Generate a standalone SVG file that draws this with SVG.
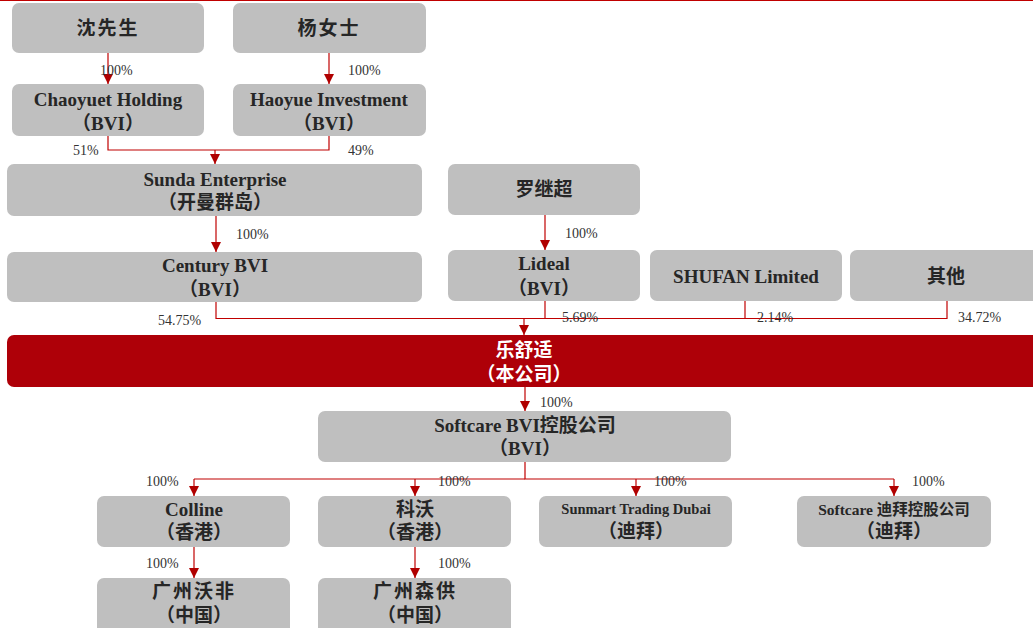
<svg xmlns="http://www.w3.org/2000/svg" width="1033" height="628" viewBox="0 0 1033 628">
<style>
.box{fill:#bfbfbf;}
.t{font-family:"Liberation Serif","Noto Sans CJK SC",serif;font-weight:bold;font-size:19px;fill:#262626;text-anchor:middle;}
.ts{font-size:14.5px;}
.w{fill:#ffffff;}
.p{font-family:"Liberation Serif","Noto Sans CJK SC",serif;font-size:14px;fill:#333333;}
.c{fill:none;stroke:#c00000;stroke-width:1.2;}
</style>
<defs>
<marker id="ah" markerUnits="userSpaceOnUse" markerWidth="10" markerHeight="10" refX="10" refY="5" orient="auto">
<path d="M0,0 L10,5 L0,10 z" fill="#b00000"/>
</marker>
</defs>
<rect width="1033" height="628" fill="#ffffff"/>
<line x1="0" y1="0.5" x2="1033" y2="0.5" stroke="#c00000" stroke-width="1"/>

<g id="connectors">
<path class="c" d="M108,53 V84" marker-end="url(#ah)"/>
<path class="c" d="M329,53 V84" marker-end="url(#ah)"/>
<path class="c" d="M108,136 V150 H329 V136"/>
<path class="c" d="M215,150 V164" marker-end="url(#ah)"/>
<path class="c" d="M216,216 V252" marker-end="url(#ah)"/>
<path class="c" d="M545,215 V250" marker-end="url(#ah)"/>
<path class="c" d="M216,302 V318.5 H947 V301"/>
<path class="c" d="M545,301 V318.5"/>
<path class="c" d="M745,301 V318.5"/>
<path class="c" d="M524,318.5 V335" marker-end="url(#ah)"/>
<path class="c" d="M525,387 V411" marker-end="url(#ah)"/>
<path class="c" d="M525,462 V479 H894"/>
<path class="c" d="M525,479 H194"/>
<path class="c" d="M194,479 V496" marker-end="url(#ah)"/>
<path class="c" d="M415,479 V496" marker-end="url(#ah)"/>
<path class="c" d="M636,479 V496" marker-end="url(#ah)"/>
<path class="c" d="M894,479 V496" marker-end="url(#ah)"/>
<path class="c" d="M194,547 V578" marker-end="url(#ah)"/>
<path class="c" d="M415,547 V578" marker-end="url(#ah)"/>
</g>

<g id="labels">
<text class="p" x="100" y="75">100%</text>
<text class="p" x="348" y="75">100%</text>
<text class="p" x="73" y="155">51%</text>
<text class="p" x="348" y="155">49%</text>
<text class="p" x="236" y="239">100%</text>
<text class="p" x="565" y="238">100%</text>
<text class="p" x="158" y="325">54.75%</text>
<text class="p" x="562" y="322">5.69%</text>
<text class="p" x="757" y="322">2.14%</text>
<text class="p" x="958" y="322">34.72%</text>
<text class="p" x="540" y="407">100%</text>
<text class="p" x="146" y="486">100%</text>
<text class="p" x="438" y="486">100%</text>
<text class="p" x="654" y="486">100%</text>
<text class="p" x="912" y="486">100%</text>
<text class="p" x="146" y="568">100%</text>
<text class="p" x="438" y="568">100%</text>
</g>

<g id="n-shen">
<rect class="box" x="12" y="3" width="192" height="50" rx="7"/>
<text class="t" x="108" y="35" letter-spacing="2">沈先生</text>
</g>
<g id="n-yang">
<rect class="box" x="233" y="3" width="193" height="50" rx="7"/>
<text class="t" x="329" y="35" letter-spacing="2">杨女士</text>
</g>
<g id="n-chaoyuet">
<rect class="box" x="12" y="84" width="192" height="52" rx="7"/>
<text class="t" x="108" y="106">Chaoyuet  Holding</text>
<text class="t" x="108" y="130">（BVI）</text>
</g>
<g id="n-haoyue">
<rect class="box" x="233" y="84" width="193" height="52" rx="7"/>
<text class="t" x="329" y="106">Haoyue Investment</text>
<text class="t" x="329" y="130">（BVI）</text>
</g>
<g id="n-sunda">
<rect class="box" x="7" y="164" width="415" height="52" rx="7"/>
<text class="t" x="215" y="186">Sunda Enterprise</text>
<text class="t" x="215" y="209">（开曼群岛）</text>
</g>
<g id="n-luo">
<rect class="box" x="448" y="164" width="192" height="51" rx="7"/>
<text class="t" x="544" y="196">罗继超</text>
</g>
<g id="n-century">
<rect class="box" x="7" y="252" width="415" height="50" rx="7"/>
<text class="t" x="215" y="272">Century BVI</text>
<text class="t" x="215" y="296">（BVI）</text>
</g>
<g id="n-lideal">
<rect class="box" x="448" y="250" width="192" height="51" rx="7"/>
<text class="t" x="544" y="270">Lideal</text>
<text class="t" x="544" y="295">（BVI）</text>
</g>
<g id="n-shufan">
<rect class="box" x="650" y="250" width="192" height="51" rx="7"/>
<text class="t" x="746" y="283">SHUFAN Limited</text>
</g>
<g id="n-other">
<rect class="box" x="850" y="250" width="200" height="51" rx="7"/>
<text class="t" x="946" y="283">其他</text>
</g>
<g id="n-company">
<rect x="7" y="335" width="1040" height="52" rx="7" fill="#ae0008"/>
<text class="t w" x="524" y="357">乐舒适</text>
<text class="t w" x="524" y="381">（本公司）</text>
</g>
<g id="n-softcare-bvi">
<rect class="box" x="318" y="411" width="413" height="51" rx="7"/>
<text class="t" x="525" y="432">Softcare BVI控股公司</text>
<text class="t" x="525" y="455">（BVI）</text>
</g>
<g id="n-colline">
<rect class="box" x="97" y="496" width="193" height="51" rx="7"/>
<text class="t" x="194" y="516">Colline</text>
<text class="t" x="194" y="539">（香港）</text>
</g>
<g id="n-kewo">
<rect class="box" x="318" y="496" width="193" height="51" rx="7"/>
<text class="t" x="415" y="516">科沃</text>
<text class="t" x="415" y="539">（香港）</text>
</g>
<g id="n-sunmart">
<rect class="box" x="539" y="496" width="193" height="51" rx="7"/>
<text class="t ts" x="636" y="514">Sunmart Trading Dubai</text>
<text class="t" x="636" y="538">（迪拜）</text>
</g>
<g id="n-softcare-dubai">
<rect class="box" x="797" y="496" width="194" height="51" rx="7"/>
<text class="t" x="894" y="515" style="font-size:15.5px">Softcare 迪拜控股公司</text>
<text class="t" x="894" y="538">（迪拜）</text>
</g>
<g id="n-gz-wofei">
<rect class="box" x="97" y="578" width="193" height="60" rx="7"/>
<text class="t" x="194" y="598" letter-spacing="2">广州沃非</text>
<text class="t" x="194" y="622">（中国）</text>
</g>
<g id="n-gz-sengong">
<rect class="box" x="318" y="578" width="193" height="60" rx="7"/>
<text class="t" x="415" y="598" letter-spacing="2">广州森供</text>
<text class="t" x="415" y="622">（中国）</text>
</g>
</svg>
